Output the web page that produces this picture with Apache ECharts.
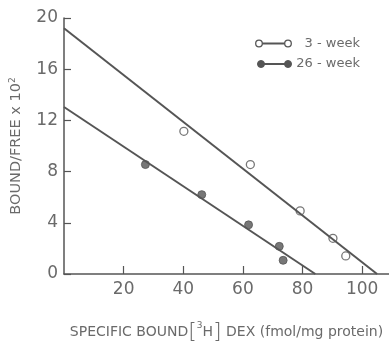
<!DOCTYPE html>
<html><head><meta charset="utf-8">
<script src="https://cdn.jsdelivr.net/npm/echarts@6/dist/echarts.min.js"></script>
<style>html,body{margin:0;padding:0;background:#fff}#c{width:389px;height:348px}</style>
</head><body><div id="c"></div>
<script>
// Data
const xTicks = [20, 40, 60, 80, 100];
const yTicks = [0, 4, 8, 12, 16, 20];
const week3X = [40.2, 62.5, 79.2, 90.2, 94.5];
const week3Y = [11.15, 8.55, 4.93, 2.79, 1.41];
const week26X = [27.3, 46.2, 61.9, 72.2, 73.5];
const week26Y = [8.55, 6.2, 3.84, 2.16, 1.07];
const fit3X = [0, 105];
const fit3Y = [19.2, 0];
const fit26X = [0, 84.3];
const fit26Y = [13.05, 0];
const seriesNames = ['3 - week', '26 - week'];

const zip = (xs, ys) => xs.map((x, i) => [x, ys[i]]);
const ink = '#555';
const txt = '#6a6a6a';
const font = 'DejaVu Sans';

const chart = echarts.init(document.getElementById('c'), null, {renderer: 'canvas'});
chart.setOption({
  animation: false,
  backgroundColor: '#fff',
  grid: {left: 62, right: 0, top: 18, bottom: 55, containLabel: false},
  xAxis: {
    type: 'value', min: 0, max: 109, interval: 20,
    axisLine: {lineStyle: {color: ink, width: 1.5}},
    axisTick: {show: true, inside: true, length: 8, lineStyle: {color: ink, width: 1.2}, customValues: xTicks},
    axisLabel: {customValues: xTicks, color: txt, fontFamily: font, fontSize: 17, margin: 7},
    splitLine: {show: false},
    name: '{t|SPECIFIC BOUND}{b|[}{s|3}{t|H}{b|]}{t| DEX (fmol/mg protein)}',
    nameLocation: 'middle', nameGap: 47,
    nameTextStyle: {
      rich: {
        t: {fontFamily: font, fontSize: 14, color: txt},
        b: {fontFamily: font, fontSize: 22, color: txt, fontWeight: 'lighter'},
        s: {fontFamily: font, fontSize: 9, color: txt, verticalAlign: 'top', padding: [0, 0, 8, 0]}
      }
    }
  },
  yAxis: {
    type: 'value', min: 0, max: 20, interval: 4,
    axisLine: {show: true, lineStyle: {color: ink, width: 1.5}},
    axisTick: {show: true, inside: true, length: 7, lineStyle: {color: ink, width: 1.2}, customValues: yTicks},
    axisLabel: {customValues: yTicks, color: txt, fontFamily: font, fontSize: 17, margin: 6},
    splitLine: {show: false},
    name: '{t|BOUND/FREE x 10}{s|2}',
    nameLocation: 'middle', nameGap: 40, nameRotate: 90,
    nameTextStyle: {
      rich: {
        t: {fontFamily: font, fontSize: 14.5, color: txt},
        s: {fontFamily: font, fontSize: 9, color: txt, verticalAlign: 'top', padding: [0, 0, 7, 0]}
      }
    }
  },
  series: [
    {type: 'line', data: zip(fit3X, fit3Y), symbol: 'none', lineStyle: {color: ink, width: 2}, silent: true},
    {type: 'line', data: zip(fit26X, fit26Y), symbol: 'none', lineStyle: {color: ink, width: 2}, silent: true},
    {name: seriesNames[0], type: 'scatter', data: zip(week3X, week3Y), symbol: 'circle', symbolSize: 8,
     itemStyle: {color: '#fff', borderColor: ink, borderWidth: 1.3}},
    {name: seriesNames[1], type: 'scatter', data: zip(week26X, week26Y), symbol: 'circle', symbolSize: 8,
     itemStyle: {color: ink, borderColor: ink, borderWidth: 1}}
  ],
  graphic: [
    {type: 'line', shape: {x1: 259, y1: 43.5, x2: 288, y2: 43.5}, style: {stroke: ink, lineWidth: 2}},
    {type: 'circle', shape: {cx: 259, cy: 43.5, r: 3.3}, style: {fill: '#fff', stroke: ink, lineWidth: 1.3}, z: 10},
    {type: 'circle', shape: {cx: 288, cy: 43.5, r: 3.3}, style: {fill: '#fff', stroke: ink, lineWidth: 1.3}, z: 10},
    {type: 'text', x: 360, y: 43.5, style: {text: seriesNames[0], fill: txt, font: '13px "DejaVu Sans"', textAlign: 'right', textVerticalAlign: 'middle'}},
    {type: 'line', shape: {x1: 261, y1: 64, x2: 288, y2: 64}, style: {stroke: ink, lineWidth: 2}},
    {type: 'circle', shape: {cx: 261, cy: 64, r: 3.5}, style: {fill: ink, stroke: ink, lineWidth: 1}, z: 10},
    {type: 'circle', shape: {cx: 288, cy: 64, r: 3.5}, style: {fill: ink, stroke: ink, lineWidth: 1}, z: 10},
    {type: 'text', x: 360, y: 64, style: {text: seriesNames[1], fill: txt, font: '13px "DejaVu Sans"', textAlign: 'right', textVerticalAlign: 'middle'}}
  ]
});
</script></body></html>
